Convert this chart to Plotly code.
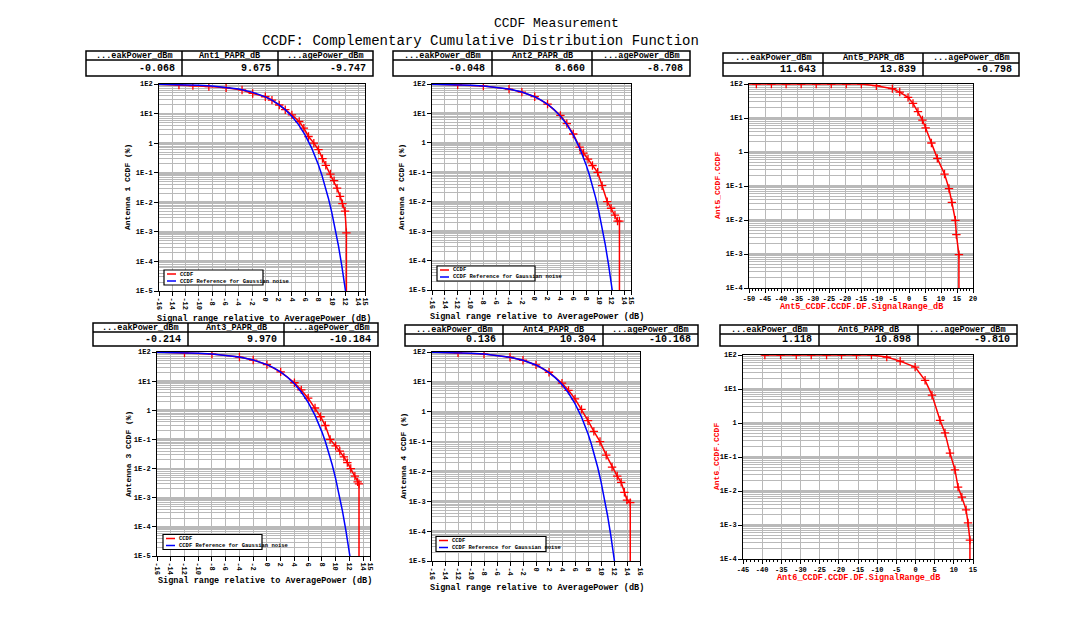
import plotly.graph_objects as go

W, H = 1071, 619
FONT = "Liberation Mono"

# ---------------- data ----------------
# Gaussian-noise reference (x in dB, CCDF in %)
REF_X = [-16, -14, -12, -10, -8, -6, -4, -2, -1, 0, 1, 2, 3, 4, 5, 6, 7, 7.5, 8, 8.5, 9, 9.5, 10, 10.5, 11, 11.5, 12, 12.07]
REF_Y = [97.5, 96.1, 93.9, 90.5, 85.3, 77.8, 67.2, 53.2, 45.2, 36.8, 28.4, 20.5, 13.6, 8.1, 4.23, 1.87, 0.666, 0.361,
         0.182, 0.0843, 0.0355, 0.0135, 0.00454, 0.00134, 0.000341, 0.000073, 0.000013, 0.00001]

ANT1_X = [-16, -13, -10.9, -8.5, -5.9, -3.5, -1.9, 0, 1, 2.1, 3, 4, 5.1, 5.8, 6.5, 7.3, 8, 8.6, 9.1, 9.8, 10.35, 10.8, 11.25, 11.6, 12, 12.2, 12.2]
ANT1_Y = [99, 93, 88, 82, 75, 63, 48, 37, 28.5, 19.5, 13.5, 9, 5.4, 3.2, 1.68, 1.0, 0.6, 0.3, 0.178, 0.09, 0.054, 0.03,
          0.0159, 0.009, 0.005, 0.00093, 0.00001]

ANT2_X = [-16, -12, -8, -4, -2, 0, 2, 4, 5, 6, 7, 7.6, 8.3, 9, 9.8, 10.5, 11.3, 11.9, 12.5, 12.9, 13.2, 13.2]
ANT2_Y = [99.5, 94, 85, 67, 53, 37, 20.8, 8.6, 4.5, 2.0, 0.72, 0.45, 0.28, 0.17, 0.1, 0.035, 0.01, 0.006, 0.0035,
          0.0022, 0.0022, 0.00001]

ANT3_X = [-16, -12, -8, -4, -2, 0, 2, 4, 5, 6, 7, 7.8, 8.5, 9.2, 10, 10.6, 11.2, 11.7, 12.2, 12.8, 13.2, 13.4, 13.4]
ANT3_Y = [99.5, 94, 85, 67, 53, 37, 20.8, 8.8, 5.0, 2.6, 1.2, 0.6, 0.3, 0.1, 0.06, 0.04, 0.025, 0.016, 0.01, 0.0055,
          0.0035, 0.003, 0.00001]

ANT4_X = [-16, -12, -8, -4, -2, 0, 2, 4, 5, 6, 7, 8, 8.9, 9.85, 10.8, 11.7, 12.5, 13.1, 13.6, 14, 14.5, 14.5]
ANT4_Y = [99.5, 94, 85, 67, 53, 37, 21, 9, 5.2, 2.7, 1.2, 0.5, 0.22, 0.1, 0.035, 0.014, 0.007, 0.0043, 0.002,
          0.0011, 0.0009, 0.00001]

ANT5_X = [-50, -47.7, -43, -38.4, -33.7, -29, -24.3, -19.6, -14.9, -10.2, -5.2, -2.9, -0.3, 1.25, 2.8, 4.2, 5.2, 7.0,
          8.85, 11.1, 12.5, 13.4, 14.5, 14.8, 15.6, 15.6]
ANT5_Y = [100, 100, 100, 100, 100, 100, 100, 100, 100, 89, 73, 58, 40.5, 27, 15.3, 8.7, 5.1, 1.84, 0.65, 0.225,
          0.084, 0.033, 0.0098, 0.0037, 0.00096, 0.0001]

ANT6_X = [-40, -39.3, -35.2, -31.1, -27.2, -23.2, -19.3, -15.4, -11.5, -7.5, -4.0, -0.1, 2.5, 4.3, 6.4, 7.7, 9.0,
          10.3, 11.1, 12.1, 13.2, 13.7, 14.2, 14.2]
ANT6_Y = [100, 100, 100, 100, 100, 100, 100, 100, 100, 87, 66, 44, 18, 6.6, 1.2, 0.51, 0.13, 0.042, 0.013, 0.0066,
          0.0028, 0.00115, 0.00036, 0.0001]

TICKS_A = [-16, -14, -12, -10, -8, -6, -4, -2, 0, 2, 4, 6, 8, 10, 12, 14, 15]
TICKS_B = [-16, -14, -12, -10, -8, -6, -4, -2, 0, 2, 4, 6, 8, 10, 12, 14, 16]
TICKS_C = [-50, -45, -40, -35, -30, -25, -20, -15, -10, -5, 0, 5, 10, 15, 20]
TICKS_D = [-45, -40, -35, -30, -25, -20, -15, -10, -5, 0, 5, 10, 15]

Y_VALS_5 = [100, 10, 1, 0.1, 0.01, 0.001, 0.0001, 0.00001]
Y_TEXT_5 = ["1E2", "1E1", "1", "1E-1", "1E-2", "1E-3", "1E-4", "1E-5"]
Y_VALS_4 = [100, 10, 1, 0.1, 0.01, 0.001, 0.0001]
Y_TEXT_4 = ["1E2", "1E1", "1", "1E-1", "1E-2", "1E-3", "1E-4"]

TABLE_HEAD = [["...eakPower_dBm", "Ant1_PAPR_dB", "...agePower_dBm"],
              ["...eakPower_dBm", "Ant2_PAPR_dB", "...agePower_dBm"],
              ["...eakPower_dBm", "Ant5_PAPR_dB", "...agePower_dBm"],
              ["...eakPower_dBm", "Ant3_PAPR_dB", "...agePower_dBm"],
              ["...eakPower_dBm", "Ant4_PAPR_dB", "...agePower_dBm"],
              ["...eakPower_dBm", "Ant6_PAPR_dB", "...agePower_dBm"]]
TABLE_VALS = [["-0.068", "9.675", "-9.747"],
              ["-0.048", "8.660", "-8.708"],
              ["11.643", "13.839", "-0.798"],
              ["-0.214", "9.970", "-10.184"],
              ["0.136", "10.304", "-10.168"],
              ["1.118", "10.898", "-9.810"]]

LEG_NAMES = ["CCDF", "CCDF Reference for Gaussian noise"]
YTITLES = ["Antenna 1 CCDF (%)", "Antenna 2 CCDF (%)", "Ant5_CCDF.CCDF",
           "Antenna 3 CCDF (%)", "Antenna 4 CCDF (%)", "Ant6_CCDF.CCDF"]
XTITLES = ["Signal range relative to AveragePower (dB)", "Signal range relative to AveragePower (dB)",
           "Ant5_CCDF.CCDF.DF.SignalRange_dB",
           "Signal range relative to AveragePower (dB)", "Signal range relative to AveragePower (dB)",
           "Ant6_CCDF.CCDF.DF.SignalRange_dB"]

# ---------------- layout geometry (pixels) ----------------
panels = [
    dict(box=(159, 365, 84, 291), xr=[-16, 15], yr=[-5, 2], xt=TICKS_A, rot=90, yv=Y_VALS_5, yt=Y_TEXT_5,
         red=(ANT1_X, ANT1_Y), ref=True, leg=(164, 263, 277.5), ytp=(128, 187), xtp=(264, 319), tc="black",
         table=((86, 182, 278, 373), (51, 60, 76)), minor=False),
    dict(box=(432, 631, 84, 290), xr=[-16, 15], yr=[-5, 2], xt=TICKS_A, rot=90, yv=Y_VALS_5, yt=Y_TEXT_5,
         red=(ANT2_X, ANT2_Y), ref=True, leg=(437, 535, 273.5), ytp=(402, 187), xtp=(537, 317), tc="black",
         table=((393, 492, 592, 690), (51, 60, 76)), minor=False),
    dict(box=(749, 973, 84, 288), xr=[-50, 20], yr=[-4, 2], xt=TICKS_C, rot=0, yv=Y_VALS_4, yt=Y_TEXT_4,
         red=(ANT5_X, ANT5_Y), ref=False, leg=None, ytp=(717, 186), xtp=(861, 307), tc="red",
         table=((723, 823, 923, 1019), (53, 63, 76)), minor=True),
    dict(box=(157, 370, 352, 556), xr=[-16, 15], yr=[-5, 2], xt=TICKS_A, rot=90, yv=Y_VALS_5, yt=Y_TEXT_5,
         red=(ANT3_X, ANT3_Y), ref=True, leg=(163, 262, 542), ytp=(128, 454), xtp=(265, 581), tc="black",
         table=((93, 188, 284, 378), (323, 332, 346)), minor=False),
    dict(box=(432, 640, 352, 561), xr=[-16, 16], yr=[-5, 2], xt=TICKS_B, rot=90, yv=Y_VALS_5, yt=Y_TEXT_5,
         red=(ANT4_X, ANT4_Y), ref=True, leg=(436, 546, 544), ytp=(403, 456), xtp=(537, 588), tc="black",
         table=((405, 503, 603, 698), (325, 334, 346)), minor=False),
    dict(box=(743, 973, 355, 559), xr=[-45, 15], yr=[-4, 2], xt=TICKS_D, rot=0, yv=Y_VALS_4, yt=Y_TEXT_4,
         red=(ANT6_X, ANT6_Y), ref=False, leg=None, ytp=(716, 457), xtp=(858, 578), tc="red",
         table=((720, 819, 918, 1017), (325, 334, 346)), minor=True),
]

RED = "#ff0000"
BLUE = "#0000ff"
GRID = "#b9b9b9"

fig = go.Figure()
shapes = []
annotations = []
layout = dict(width=W, height=H, margin=dict(l=0, r=0, t=0, b=0, pad=0, autoexpand=False),
              paper_bgcolor="white", plot_bgcolor="white", showlegend=False,
              font=dict(family=FONT, size=8, color="black"))


def px(x):
    return x / W


def py(y):
    return 1 - y / H


def note(x, y, text, size, color="black", xanchor="center", angle=0, bold=True, align="center"):
    annotations.append(dict(x=px(x), y=py(y), xref="paper", yref="paper", text=text, showarrow=False,
                            xanchor=xanchor, yanchor="middle", textangle=angle, align=align,
                            font=dict(family=FONT, size=size, color=color,
                                      weight="bold" if bold else "normal")))


def pline(xa, ya, xb, yb, color, width):
    shapes.append(dict(type="line", xref="paper", yref="paper", x0=px(xa), x1=px(xb),
                       y0=py(ya), y1=py(yb), line=dict(color=color, width=width)))


for i, p in enumerate(panels):
    n = i + 1
    xa = "x" if n == 1 else f"x{n}"
    ya = "y" if n == 1 else f"y{n}"
    xkey = "xaxis" if n == 1 else f"xaxis{n}"
    ykey = "yaxis" if n == 1 else f"yaxis{n}"
    x0, x1, y0, y1 = p["box"]
    rx, ry = p["red"]
    fig.add_trace(go.Scatter(x=rx, y=ry, mode="lines", name=LEG_NAMES[0], xaxis=xa, yaxis=ya,
                             line=dict(color=RED, width=1.5)))
    fig.add_trace(go.Scatter(x=rx[1:-1], y=ry[1:-1], mode="markers", xaxis=xa, yaxis=ya,
                             name=LEG_NAMES[0], hoverinfo="skip",
                             marker=dict(symbol="cross-thin", size=6, color=RED, line=dict(color=RED, width=1.3))))
    if p["ref"]:
        fig.add_trace(go.Scatter(x=REF_X, y=REF_Y, mode="lines", name=LEG_NAMES[1], xaxis=xa, yaxis=ya,
                                 line=dict(color=BLUE, width=1.5)))
        # compact legend box (as in the reference)
        lx0, lx1, lyc = p["leg"]
        shapes.append(dict(type="rect", xref="paper", yref="paper", x0=px(lx0), x1=px(lx1),
                           y0=py(lyc + 7.5), y1=py(lyc - 7.5), fillcolor="white",
                           line=dict(color="black", width=1.2)))
        pline(lx0 + 3, lyc - 3.5, lx0 + 12, lyc - 3.5, RED, 1.5)
        pline(lx0 + 3, lyc + 3.5, lx0 + 12, lyc + 3.5, BLUE, 1.5)
        note(lx0 + 14, lyc, LEG_NAMES[0] + "<br>" + LEG_NAMES[1], 5.5, xanchor="left", align="left")

    layout[xkey] = dict(domain=[px(x0), px(x1)], range=p["xr"], anchor=ya,
                        tickmode="array", tickvals=p["xt"], ticktext=[str(v) for v in p["xt"]],
                        tickangle=p["rot"], tickfont=dict(size=7, family=FONT, color="black", weight="bold"),
                        showgrid=True, gridcolor=GRID, gridwidth=1, zeroline=False,
                        showline=True, linecolor="black", linewidth=1, mirror=True,
                        ticks="outside", ticklen=4, tickcolor="black")
    if p["minor"]:
        layout[xkey]["minor"] = dict(dtick=1, ticks="outside", ticklen=2, tickcolor="black", showgrid=False)
    layout[ykey] = dict(domain=[py(y1), py(y0)], range=p["yr"], type="log", anchor=xa,
                        tickmode="array", tickvals=p["yv"], ticktext=p["yt"],
                        tickfont=dict(size=7, family=FONT, color="black", weight="bold"),
                        showgrid=True, gridcolor=GRID, gridwidth=2, zeroline=False,
                        showline=True, linecolor="black", linewidth=1, mirror=True,
                        ticks="outside", ticklen=4, tickcolor="black",
                        minor=dict(dtick="D1", showgrid=True, gridcolor=GRID, gridwidth=1, ticks=""))

    # axis titles
    tx, ty = p["ytp"]
    note(tx, ty, YTITLES[i], 8, p["tc"], angle=-90)
    tx, ty = p["xtp"]
    note(tx, ty, XTITLES[i], 8.5, p["tc"])

    # value table
    cols, rows = p["table"]
    ta, tm, tb = rows
    shapes.append(dict(type="rect", xref="paper", yref="paper", x0=px(cols[0]), x1=px(cols[-1]),
                       y0=py(tb), y1=py(ta), line=dict(color="black", width=1.5)))
    pline(cols[0], tm, cols[-1], tm, "black", 1.5)
    for c in cols[1:-1]:
        pline(c, ta, c, tb, "black", 1.5)
    for k in range(3):
        note((cols[k] + cols[k + 1]) / 2, (ta + tm) / 2 + 0.5, TABLE_HEAD[i][k], 8.5)
        note(cols[k + 1] - 5, (tm + tb) / 2, TABLE_VALS[i][k], 10, xanchor="right")

# two title lines, boxes touching but not overlapping
annotations.append(dict(x=px(556), y=py(32), xref="paper", yref="paper", text="CCDF Measurement",
                        showarrow=False, xanchor="center", yanchor="bottom", borderpad=0,
                        font=dict(family=FONT, size=13, color="black")))
annotations.append(dict(x=px(480), y=py(32), xref="paper", yref="paper",
                        text="CCDF: Complementary Cumulative Distribution Function", borderpad=0,
                        showarrow=False, xanchor="center", yanchor="top",
                        font=dict(family=FONT, size=14, color="black")))

layout["shapes"] = shapes
layout["annotations"] = annotations
fig.update_layout(**layout)
fig.write_html("out.html", post_script="document.body.style.margin='0px';",
               config={"displayModeBar": False})
